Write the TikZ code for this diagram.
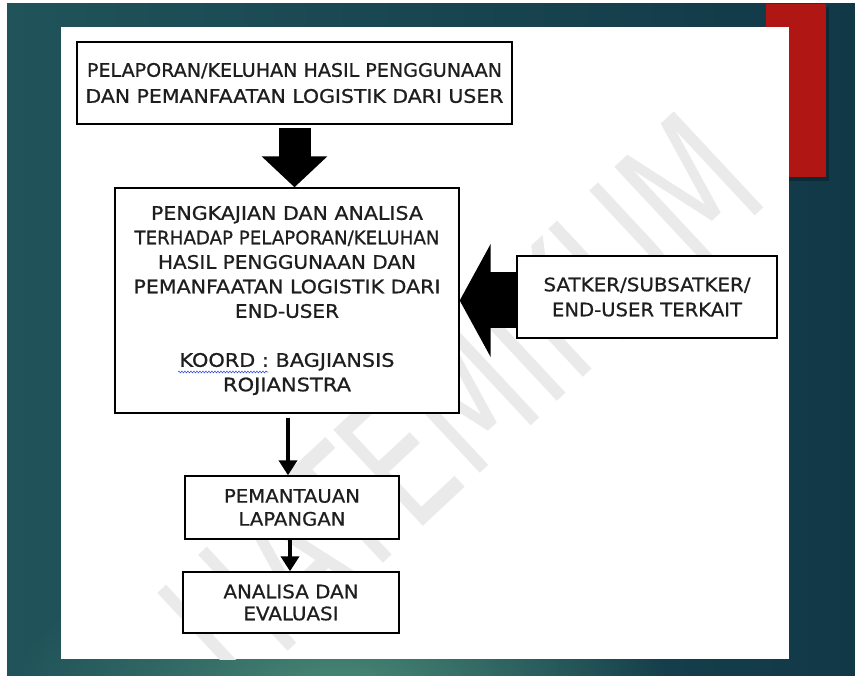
\documentclass[tikz,border=0pt]{standalone}
\usepackage{fontspec}
\setmainfont{DejaVu Sans}
\newfontfamily\boxfont{DejaVu Sans}[FakeBold=0.7]
\usetikzlibrary{arrows.meta,decorations.pathmorphing,fadings}

\definecolor{bgL}{HTML}{20535A}
\definecolor{bgM}{HTML}{2A6160}
\definecolor{bgR}{HTML}{113847}
\definecolor{bgGlow}{HTML}{4A8A76}
\definecolor{barred}{HTML}{B01714}
\definecolor{ink}{HTML}{1E1E1E}
\definecolor{wmark}{HTML}{EAEAEA}
\definecolor{spell}{HTML}{3A55E8}

% scale one line of text horizontally to a given width (in pt)
\newcommand\fitw[2]{\resizebox{#1pt}{\height}{#2}}

\tikzfading[name=glowfade, inner color=transparent!0, outer color=transparent!100]

\tikzset{
  flowbox/.style={draw=black, line width=1.4pt, fill=white, inner sep=0pt,
    align=center, text=ink, font=\boxfont\fontsize{18.6}{#1}\selectfont},
  flowbox/.default=25,
  bigarrow/.style={line width=#1, -{Triangle[width=2*#1, length=31pt]}},
  smallarrow/.style={line width=4pt, -{Triangle[width=18pt, length=15pt]}}
}

\begin{document}
\begin{tikzpicture}[x=1pt, y=-1pt]
\useasboundingbox (0,0) rectangle (855,676);
\fill[white] (0,0) rectangle (855,676);

% slide background
\shade[left color=bgL, middle color=bgM, right color=bgR] (7,4) rectangle (855,676);
\begin{scope}
  \clip (7,4) rectangle (855,676);
  \fill[bgGlow, path fading=glowfade] (340,690) ellipse (330 and 150);
\end{scope}

% red accent bar with a soft shadow
\fill[black, opacity=0.25] (768,7) rectangle (829,181);
\fill[barred] (766,4) rectangle (826,177);

% white content panel
\fill[white] (61,27) rectangle (789,659);

% faint diagonal watermark
\begin{scope}
  \clip (61,27) rectangle (789,659);
  \node[text=wmark, rotate=43, inner sep=0pt,
        font=\fontsize{180}{180}\selectfont] (wm) at (462,402)
        {\fitw{730}{HATEMIKUM}};
\end{scope}

% boxes
\node[flowbox=26, minimum width=435pt, minimum height=82pt] (b1) at (294.5,83)
  {\fitw{415}{PELAPORAN/KELUHAN HASIL PENGGUNAAN}\\
   \fitw{418}{DAN PEMANFAATAN LOGISTIK DARI USER}};

\node[flowbox=24.5, minimum width=344pt, minimum height=225pt] (b2) at (287,300.5)
  {\fitw{272}{PENGKAJIAN DAN ANALISA}\\
   \fitw{305}{TERHADAP PELAPORAN/KELUHAN}\\
   \fitw{258}{HASIL PENGGUNAAN DAN}\\
   \fitw{307}{PEMANFAATAN LOGISTIK DARI}\\
   \fitw{104}{END-USER}\\[24.5pt]
   \fitw{215}{KOORD : BAGJIANSIS}\\
   \fitw{128}{ROJIANSTRA}};

\node[flowbox=25, minimum width=260pt, minimum height=82pt] (b3) at (647,297)
  {\fitw{207}{SATKER/SUBSATKER/}\\
   \fitw{190}{END-USER TERKAIT}};

\node[flowbox=23, minimum width=214pt, minimum height=63pt] (b4) at (292,507.5)
  {\fitw{136}{PEMANTAUAN}\\
   \fitw{107}{LAPANGAN}};

\node[flowbox=22, minimum width=216pt, minimum height=61pt] (b5) at (291,602.5)
  {\fitw{135}{ANALISA DAN}\\
   \fitw{95}{EVALUASI}};

% spell-check squiggle under "KOORD :"
\draw[spell, line width=0.6pt, decorate,
      decoration={snake, amplitude=0.9pt, segment length=3pt}]
  (178,372) -- (268,372);

% connectors
\draw[bigarrow=32pt] ([yshift=-3pt]b1.south) -- (b1.south |- b2.north);
\draw[bigarrow=56pt] (b3.west |- b2.east) -- (b2.east);
\draw[smallarrow] ([xshift=1pt, yshift=-4pt]b2.south) -- ([xshift=1pt]b2.south |- b4.north);
\draw[smallarrow] ([xshift=-2pt]b4.south) -- ([xshift=-2pt]b4.south |- b5.north);
\end{tikzpicture}
\end{document}
